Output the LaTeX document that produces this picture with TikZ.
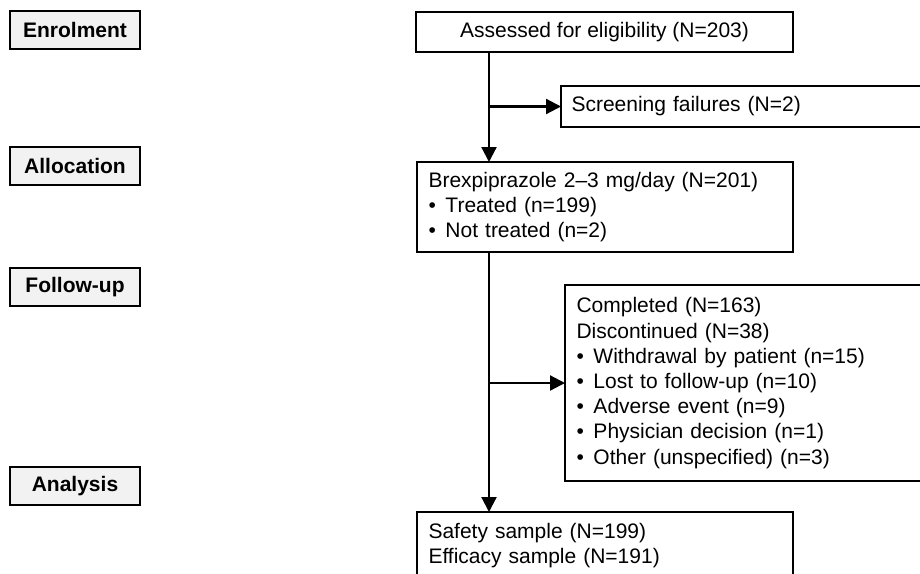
\documentclass[tikz,border=0pt]{standalone}
\usepackage{fontspec}
\setmainfont{Liberation Sans}
\usetikzlibrary{arrows.meta}
\definecolor{phasegray}{HTML}{F2F2F2}
\newcommand{\blt}{\makebox[17pt][l]{\textbullet}}
\begin{document}
\begin{tikzpicture}[x=1pt,y=-1pt,
  every node/.style={font=\fontsize{21}{25.2}\selectfont},
  phase/.style={draw, line width=1.6pt, fill=phasegray, minimum width=130pt,
    minimum height=38pt, anchor=north west, inner sep=0pt, outer sep=0pt,
    font=\fontsize{21}{25.2}\selectfont\bfseries},
  flowbox/.style={draw, line width=1.3pt, anchor=north west, outer sep=0pt,
    inner ysep=0pt, inner xsep=11.5pt, align=left},
  centerbox/.style={draw, line width=1.3pt, anchor=north west, outer sep=0pt,
    inner sep=0pt, align=center},
  arr/.style={line width=2.2pt, -{Triangle[length=15pt,width=15pt]}}]
\useasboundingbox (0,0) rectangle (920,573);
\clip (0,0) rectangle (920,573);
\fill[white] (0,0) rectangle (920,573);

% phase labels
\node[phase] (enrol) at (10,11) {Enrolment};
\node[phase] (alloc) at (10,147) {Allocation};
\node[phase] (follow) at (10,268) {Follow-up};
\node[phase] (analysis) at (10,467) {Analysis};

% flow boxes
\node[centerbox, minimum width=377pt, minimum height=40pt] (assess) at (416,12) {Assessed for eligibility (N=203)};
\node[flowbox, inner xsep=10.5pt, text width=352pt, minimum height=41pt] (screen) at (561,86) {Screening failures (N=2)};
\node[flowbox, text width=353pt, minimum height=90pt] (brex) at (417,162)
  {Brexpiprazole 2–3 mg/day (N=201)\\ \blt Treated (n=199)\\ \blt Not treated (n=2)};
\node[flowbox, text width=350pt, minimum height=196pt] (compl) at (565,285)
  {Completed (N=163)\\ Discontinued (N=38)\\ \blt Withdrawal by patient (n=15)\\ \blt Lost to follow-up (n=10)\\ \blt Adverse event (n=9)\\ \blt Physician decision (n=1)\\ \blt Other (unspecified) (n=3)};
\node[flowbox, text width=353pt, minimum height=67pt] (safety) at (417,512)
  {Safety sample (N=199)\\ Efficacy sample (N=191)};

% connectors
\coordinate (spine) at (489,0);
\draw[arr] (assess.south -| spine) -- (brex.north -| spine);
\draw[arr] (spine |- screen.west) -- (screen.west);
\draw[arr] (brex.south -| spine) -- (safety.north -| spine);
\draw[arr] (spine |- compl.west) -- (compl.west);
\end{tikzpicture}
\end{document}
